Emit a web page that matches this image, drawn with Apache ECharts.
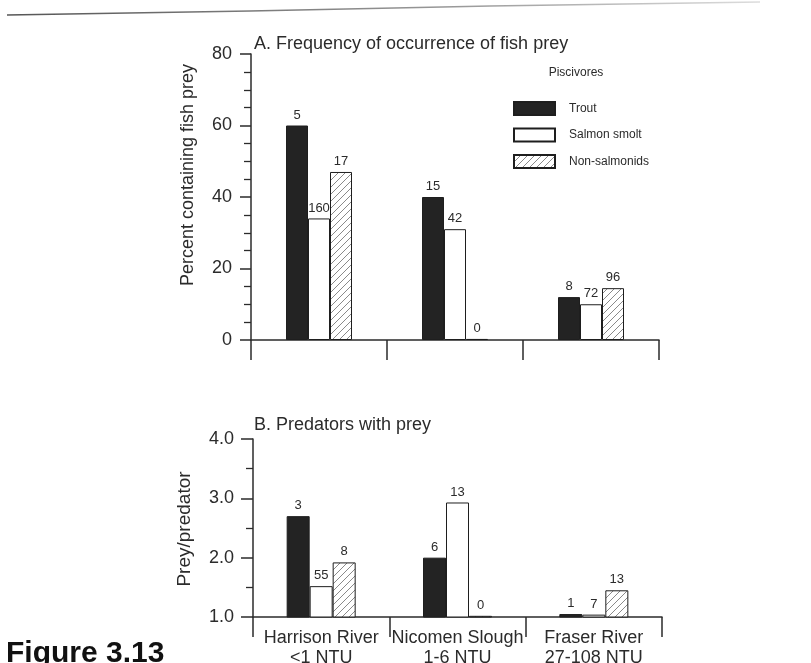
<!DOCTYPE html>
<html>
<head>
<meta charset="utf-8">
<title>Figure 3.13 – Piscivore diets by turbidity</title>
<script src="https://cdn.jsdelivr.net/npm/echarts@6/dist/echarts.min.js"></script>
<style>
  html, body { margin: 0; padding: 0; background: #ffffff; }
  #chart { width: 811px; height: 663px; }
</style>
</head>
<body>
<div id="chart"></div>
<script>
// Sites (turbidity classes)
const categories = ['Harrison River\n<1 NTU', 'Nicomen Slough\n1-6 NTU', 'Fraser River\n27-108 NTU'];
const seriesNames = ['Trout', 'Salmon smolt', 'Non-salmonids'];

// Panel A: percent of piscivores containing fish prey
const troutFreq = [60, 40, 12];
const smoltFreq = [34, 31, 10];
const nonSalFreq = [47, 0.3, 14.5];
// sample sizes printed above panel A bars
const troutCountA = [5, 15, 8];
const smoltCountA = [160, 42, 72];
const nonSalCountA = [17, 0, 96];

// Panel B: prey per predator (predators with prey)
const troutPrey = [2.7, 2.0, 1.05];
const smoltPrey = [1.52, 2.93, 1.04];
const nonSalPrey = [1.92, 1.02, 1.45];
// sample sizes printed above panel B bars
const troutCountB = [3, 6, 1];
const smoltCountB = [55, 13, 7];
const nonSalCountB = [8, 0, 13];

// Axis ticks
const yTicksA = { min: 0, max: 80, interval: 20 };
const yTicksB = { min: 1.0, max: 4.0, interval: 1.0 };

const FONT = '"Liberation Sans", Arial, Helvetica, sans-serif';
const INK = '#2b2b2b';

// Diagonal hatch fill for non-salmonids
function hatchPattern() {
  const size = 7;
  const c = document.createElement('canvas');
  c.width = size; c.height = size;
  const g = c.getContext('2d');
  g.fillStyle = '#ffffff';
  g.fillRect(0, 0, size, size);
  g.strokeStyle = '#8a8a8a';
  g.lineWidth = 1;
  g.beginPath();
  g.moveTo(0, size); g.lineTo(size, 0);
  g.moveTo(-size / 2, size / 2); g.lineTo(size / 2, -size / 2);
  g.moveTo(size / 2, size * 1.5); g.lineTo(size * 1.5, size / 2);
  g.stroke();
  return { image: c, repeat: 'repeat' };
}

const fills = ['#232323', '#ffffff', hatchPattern()];

const chart = echarts.init(document.getElementById('chart'), null, { renderer: 'canvas' });

function xAxisFor(gridIndex, showLabels) {
  return {
    type: 'category',
    gridIndex: gridIndex,
    data: categories,
    boundaryGap: true,
    axisLine: { show: true, lineStyle: { color: INK, width: 1.5 } },
    axisTick: { show: true, alignWithLabel: false, inside: false, length: 20, interval: 0,
                lineStyle: { color: INK, width: 1.5 } },
    axisLabel: { show: showLabels, interval: 0, margin: 11, fontFamily: FONT, fontSize: 18,
                 lineHeight: 20, color: INK },
    splitLine: { show: false }
  };
}

function yAxisFor(gridIndex, ticks, minorSplit, tickLen, fmt) {
  return {
    type: 'value',
    gridIndex: gridIndex,
    min: ticks.min, max: ticks.max, interval: ticks.interval,
    axisLine: { show: true, lineStyle: { color: INK, width: 1.5 } },
    axisTick: { show: true, length: tickLen, lineStyle: { color: INK, width: 1.5 } },
    minorTick: { show: true, splitNumber: minorSplit, length: 7, lineStyle: { color: INK, width: 1.3 } },
    axisLabel: { fontFamily: FONT, fontSize: 18, color: INK, margin: 19, formatter: fmt },
    splitLine: { show: false }
  };
}

function barSeries(name, idx, axisIndex, values, counts, width) {
  return {
    name: name,
    type: 'bar',
    xAxisIndex: axisIndex,
    yAxisIndex: axisIndex,
    data: values,
    barWidth: width,
    barGap: '0%',
    itemStyle: { color: fills[idx], borderColor: '#1e1e1e', borderWidth: 1 },
    label: {
      show: true, position: 'top', distance: 4,
      fontFamily: FONT, fontSize: 13, color: INK,
      formatter: (p) => String(counts[p.dataIndex])
    },
    emphasis: { disabled: true },
    animation: false
  };
}

const option = {
  backgroundColor: '#ffffff',
  animation: false,
  grid: [
    { left: 251, top: 54, width: 408, height: 286, containLabel: false, outerBoundsMode: 'none' },
    { left: 253, top: 439, width: 409, height: 178, containLabel: false, outerBoundsMode: 'none' }
  ],
  xAxis: [xAxisFor(0, false), xAxisFor(1, true)],
  yAxis: [
    yAxisFor(0, yTicksA, 4, 11, (v) => String(v)),
    yAxisFor(1, yTicksB, 2, 12, (v) => v.toFixed(1))
  ],
  legend: {
    data: seriesNames,
    orient: 'vertical',
    left: 508,
    top: 96,
    icon: 'rect',
    itemWidth: 41,
    itemHeight: 13,
    itemGap: 11.5,
    selectedMode: false,
    textStyle: { fontFamily: FONT, fontSize: 12, color: INK, padding: [0, 0, 0, 9] }
  },
  series: [
    barSeries(seriesNames[0], 0, 0, troutFreq, troutCountA, 22),
    barSeries(seriesNames[1], 1, 0, smoltFreq, smoltCountA, 22),
    barSeries(seriesNames[2], 2, 0, nonSalFreq, nonSalCountA, 22),
    barSeries(seriesNames[0], 0, 1, troutPrey, troutCountB, 23),
    barSeries(seriesNames[1], 1, 1, smoltPrey, smoltCountB, 23),
    barSeries(seriesNames[2], 2, 1, nonSalPrey, nonSalCountB, 23)
  ],
  graphic: [
    // faint page-edge rule across the top
    {
      type: 'polyline', silent: true,
      shape: { points: [[7, 15], [250, 11], [490, 6], [760, 2]] },
      style: {
        fill: null, lineWidth: 1.5,
        stroke: new echarts.graphic.LinearGradient(0, 0, 1, 0, [
          { offset: 0, color: '#555555' },
          { offset: 0.6, color: '#9a9a9a' },
          { offset: 1, color: '#dddddd' }
        ])
      }
    },
    {
      type: 'text', left: 254, top: 35,
      style: { text: 'A. Frequency of occurrence of fish prey', font: '18px ' + FONT, fill: INK }
    },
    {
      type: 'text', left: 254, top: 416,
      style: { text: 'B. Predators with prey', font: '18px ' + FONT, fill: INK }
    },
    {
      type: 'text', x: 188, y: 175, rotation: Math.PI / 2,
      style: { text: 'Percent containing fish prey', font: '18px ' + FONT, fill: INK,
               align: 'center', verticalAlign: 'middle' }
    },
    {
      type: 'text', x: 185, y: 529, rotation: Math.PI / 2,
      style: { text: 'Prey/predator', font: '19px ' + FONT, fill: INK,
               align: 'center', verticalAlign: 'middle' }
    },
    {
      type: 'text', x: 576, y: 73,
      style: { text: 'Piscivores', font: '12px ' + FONT, fill: INK,
               align: 'center', verticalAlign: 'middle' }
    },
    {
      type: 'text', x: 6, y: 639,
      style: { text: 'Figure 3.13', font: 'bold 30px ' + FONT, fill: '#111111',
               align: 'left', verticalAlign: 'top' }
    }
  ]
};

chart.setOption(option);
</script>
</body>
</html>
